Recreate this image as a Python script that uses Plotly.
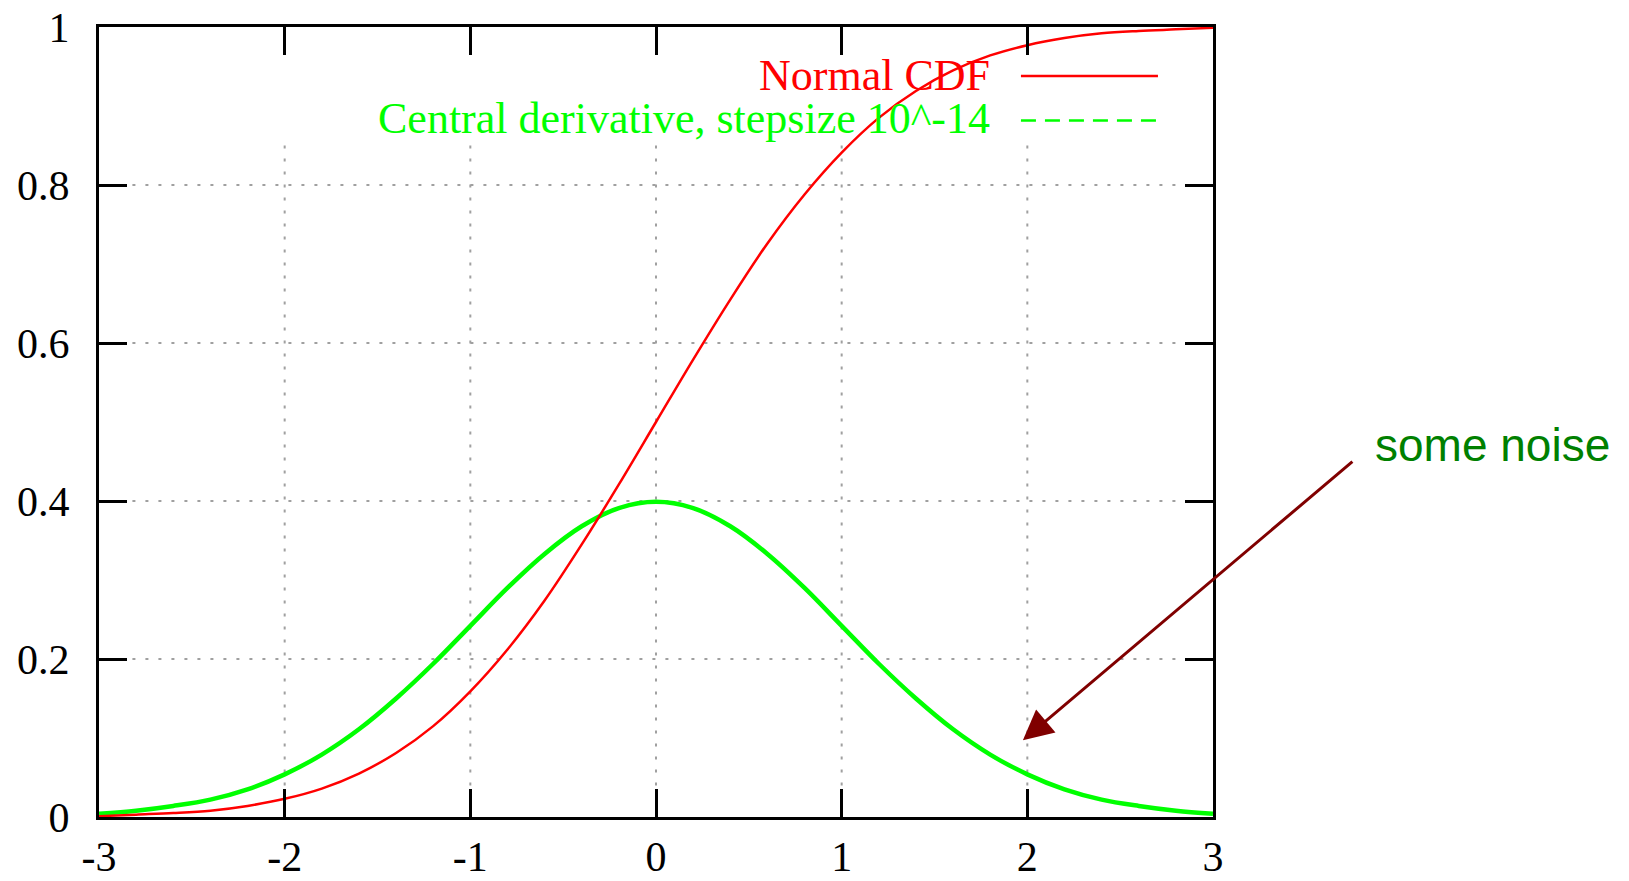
import plotly.graph_objects as go

x_vals = [-3.0, -2.8, -2.6, -2.4, -2.2, -2.0, -1.8, -1.6, -1.4, -1.2, -1.0,
          -0.8, -0.6, -0.4, -0.2, 0.0, 0.2, 0.4, 0.6, 0.8, 1.0,
          1.2, 1.4, 1.6, 1.8, 2.0, 2.2, 2.4, 2.6, 2.8, 3.0]
cdf_vals = [0.001, 0.003, 0.005, 0.008, 0.014, 0.023, 0.036, 0.055, 0.081, 0.115, 0.159,
            0.212, 0.274, 0.345, 0.421, 0.500, 0.579, 0.655, 0.726, 0.788, 0.841,
            0.885, 0.919, 0.945, 0.964, 0.977, 0.986, 0.992, 0.995, 0.997, 0.999]
deriv_vals = [0.004, 0.008, 0.014, 0.022, 0.035, 0.054, 0.079, 0.111, 0.150, 0.194, 0.242,
              0.290, 0.333, 0.368, 0.391, 0.399, 0.391, 0.368, 0.333, 0.290, 0.242,
              0.194, 0.150, 0.111, 0.079, 0.054, 0.035, 0.022, 0.014, 0.008, 0.004]

x_ticks = [-3, -2, -1, 0, 1, 2, 3]
x_tick_text = ["-3", "-2", "-1", "0", "1", "2", "3"]
y_ticks = [0, 0.2, 0.4, 0.6, 0.8, 1]
y_tick_text = ["0", "0.2", "0.4", "0.6", "0.8", "1"]
x_grid = [-2, -1, 0, 1, 2]
y_grid = [0.2, 0.4, 0.6, 0.8]

series_names = ["Normal CDF", "Central derivative, stepsize 10^-14"]
note_text = "some noise"

SERIF = "Liberation Serif, Times New Roman, serif"
GRID = dict(color="#a0a0a0", width=2, dash="3px,10px")

fig = go.Figure()
fig.add_trace(go.Scatter(x=x_vals, y=deriv_vals, mode="lines", line_shape="spline",
                         line=dict(color="#00ff00", width=4.5), showlegend=False))
fig.add_trace(go.Scatter(x=x_vals, y=cdf_vals, mode="lines", line_shape="spline",
                         line=dict(color="#ff0000", width=2.5), showlegend=False))

axis_common = dict(showline=True, linecolor="black", linewidth=3, mirror="ticks",
                   ticks="inside", ticklen=28, tickwidth=3, tickcolor="black",
                   showgrid=False, zeroline=False, automargin=False,
                   tickfont=dict(family=SERIF, size=42, color="black"))

fig.update_xaxes(range=[-3, 3], tickvals=x_ticks, ticktext=x_tick_text,
                 ticklabelstandoff=1, **axis_common)
fig.update_yaxes(range=[0, 1], tickvals=y_ticks, ticktext=y_tick_text,
                 ticklabelstandoff=18, **axis_common)

# dotted grid (stops below the key area, like gnuplot)
for gx in x_grid:
    fig.add_shape(type="line", xref="x", yref="paper", x0=gx, x1=gx, y0=0.04, y1=0.85,
                  line=GRID, layer="below")
for gy in y_grid:
    fig.add_shape(type="line", xref="paper", yref="y", x0=0.03, x1=0.97, y0=gy, y1=gy,
                  line=GRID, layer="below")

# key
fig.add_annotation(xref="paper", yref="paper", x=0.8016, y=0.938, text=series_names[0],
                   showarrow=False, xanchor="right", yanchor="middle",
                   font=dict(family=SERIF, size=44, color="#ff0000"))
fig.add_annotation(xref="paper", yref="paper", x=0.8016, y=0.884, text=series_names[1],
                   showarrow=False, xanchor="right", yanchor="middle",
                   font=dict(family=SERIF, size=44, color="#00ff00"))
fig.add_shape(type="line", xref="paper", yref="paper", x0=0.8276, x1=0.9506, y0=0.938, y1=0.938,
              line=dict(color="#ff0000", width=2.5), layer="above")
fig.add_shape(type="line", xref="paper", yref="paper", x0=0.8276, x1=0.9506, y0=0.8816, y1=0.8816,
              line=dict(color="#00ff00", width=2.5, dash="15px,9px"), layer="above")

# arrow + note
fig.add_annotation(x=1.976, y=0.097, xref="x", yref="y", text="", showarrow=True,
                   ax=331, ay=-280, arrowcolor="#800000", arrowwidth=3, arrowhead=2,
                   arrowsize=2)
fig.add_annotation(xref="paper", yref="paper", x=(1373 - 99) / 1114, y=(817 - 445) / 790,
                   text=note_text, showarrow=False, xanchor="left", yanchor="middle",
                   font=dict(family="Liberation Sans, Arial, sans-serif",
                             size=46, color="#008000"))

fig.update_layout(width=1629, height=881, margin=dict(l=99, r=416, t=27, b=64),
                  plot_bgcolor="white", paper_bgcolor="white", showlegend=False)

fig.write_html("out.html")
